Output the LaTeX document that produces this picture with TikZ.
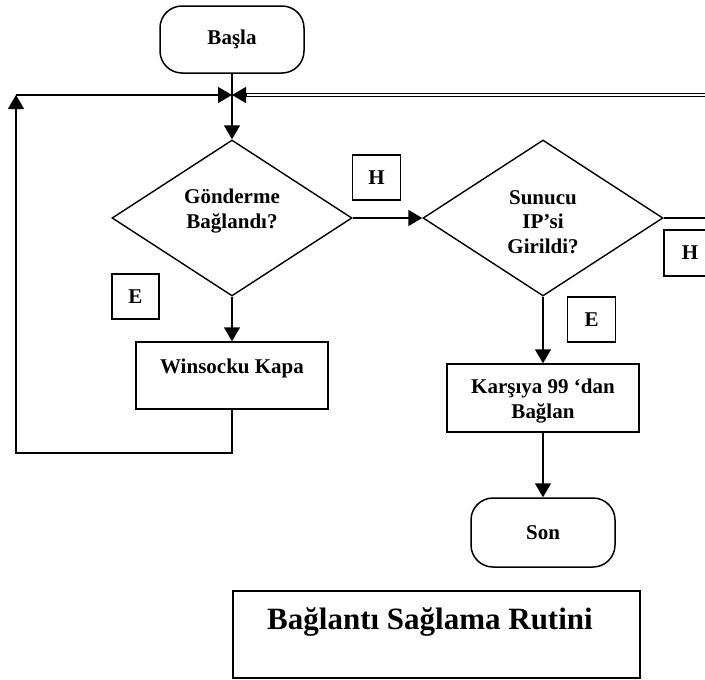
\documentclass[tikz,border=0pt]{standalone}
\usepackage{fontspec}
\setmainfont{Liberation Serif}
\usetikzlibrary{shapes.geometric, arrows.meta}

\begin{document}
\begin{tikzpicture}[x=1pt, y=-1pt,
  every node/.style={font=\bfseries\fontsize{21}{24.5}\selectfont, inner sep=0pt},
  line/.style={line width=1.5pt},
  arr/.style={line width=1.5pt, -{Triangle[length=14pt, width=16pt]}},
  dbl/.style={double, line width=1.1pt, double distance=1.6pt},
  terminal/.style={draw, line width=1.5pt, rounded corners=22pt, minimum width=144pt, minimum height=67pt},
  process/.style={draw, line width=1.5pt, minimum width=192pt, minimum height=68pt, align=center},
  decision/.style={draw, diamond, line width=1.4pt, minimum width=240pt, minimum height=156pt},
  tag/.style={draw, line width=1.5pt, minimum width=48pt, minimum height=45pt},
  label text/.style={align=center},
]
\clip (0,0) rectangle (705,680);

% --- shapes ---
\node[terminal] (start) at (232,39.5) {Başla};
\coordinate (j) at (232,95);

\node[decision] (d1) at (232,218) {};
\node[label text] (d1txt) at (232,211) {Gönderme\\Bağlandı?};

\node[decision] (d2) at (543,218) {};
\node[label text] (d2txt) at (543,222) {Sunucu\\IP’si\\Girildi?};

\node[tag] (h1) at (376.5,177.5) {H};
\node[tag, minimum width=52pt, minimum height=46pt] (h2) at (690,253) {H};
\node[tag, minimum width=47pt] (e1) at (135.5,296.5) {E};
\node[tag] (e2) at (591.5,319.5) {E};

\node[process, text height=15pt, text depth=20pt, minimum height=67pt] (wk) at (232,375.5) {Winsocku Kapa};
\node[process] (kb) at (543,398) {};
\node[label text] (kbtxt) at (543,401) {Karşıya 99 ‘dan\\Bağlan};

\node[terminal, minimum height=69pt] (son) at (543,532.5) {Son};

\node[draw, line width=1.5pt, minimum width=407pt, minimum height=87pt] (title) at (436.5,634.5) {};
\node[font=\bfseries\fontsize{31}{36}\selectfont] (titletxt) at (430,622) {Bağlantı Sağlama Rutini};

% --- connectors ---
\coordinate (lc) at (16,95);
\coordinate (lb) at (16,453);
\coordinate (rin) at (705,95);
\coordinate (rout) at (705,218);

\draw[arr] (start.south) -- (d1.north);
\draw[arr] (wk.south) |- (lb) -- (lc);
\draw[arr] (lc) -- (j);
\draw[dbl] (rin) -- ([xshift=14pt]j);
\draw[arr] ([xshift=14pt]j) -- (j);

\draw[arr] (d1.east) -- (d2.west);
\draw[line] (d2.east) -- (rout);
\draw[arr] (d1.south) -- (wk.north);
\draw[arr] (d2.south) -- (kb.north);
\draw[arr] (kb.south) -- (son.north);
\end{tikzpicture}
\end{document}
